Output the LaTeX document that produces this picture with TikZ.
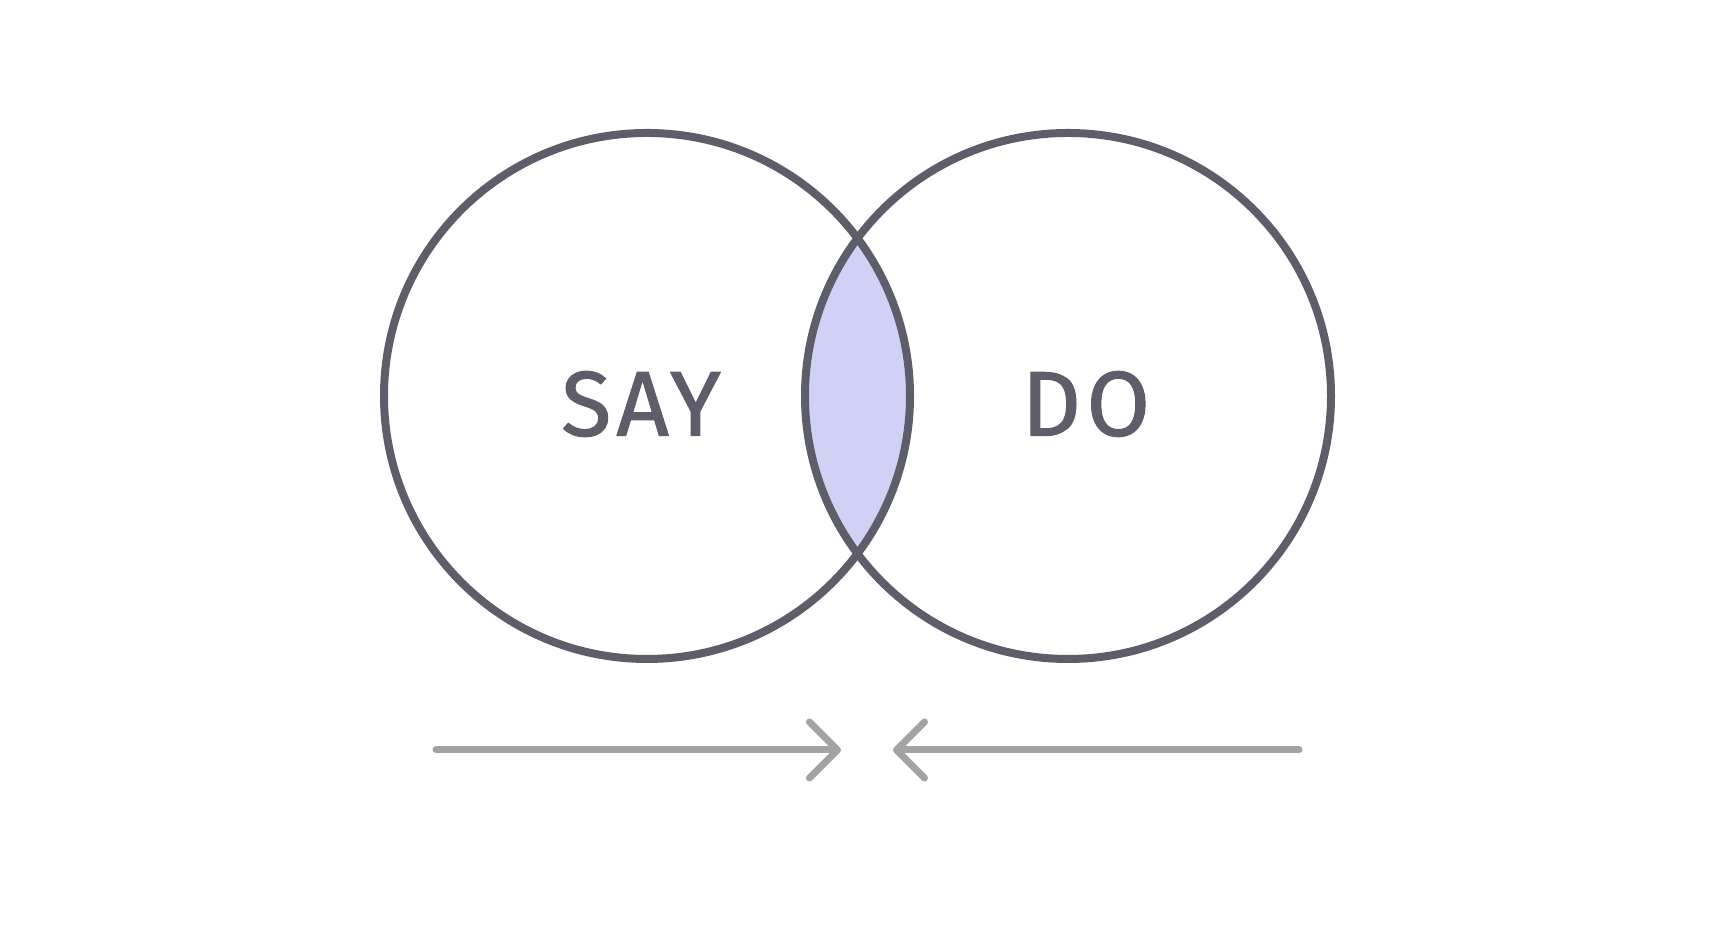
\documentclass[tikz,border=0pt]{standalone}
\usepackage{fontspec}
\setmainfont{Fira Sans}
\newfontfamily\vennfont{Fira Sans}[FakeBold=1.2,LetterSpace=6]
\usetikzlibrary{arrows.meta,positioning}
\definecolor{ringgray}{RGB}{94,93,106}
\definecolor{lensblue}{RGB}{209,209,245}
\definecolor{arrowgray}{RGB}{163,163,163}
\begin{document}
\begin{tikzpicture}[x=0.25pt,y=-0.25pt]

\tikzstyle{ring}=[draw=ringgray,line width=2pt,circle,outer sep=0pt,inner sep=0pt,minimum size=131.5pt]
\tikzstyle{word}=[text=ringgray,inner sep=0pt,font=\vennfont\fontsize{23}{23}\selectfont]
\tikzstyle{push}=[draw=arrowgray,line width=1.75pt,line cap=round,-{Straight Barb[length=7pt,width=14pt,round]}]

\useasboundingbox (0,0) rectangle (1716,948);

\coordinate (say_c) at (647,396);
\coordinate (do_c) at (1068,396);

% overlap
\begin{scope}
\clip (say_c) circle (65.75pt);
\fill [lensblue] (do_c) circle (65.75pt);
\end{scope}

\node (say) [ring] at (say_c) {};
\node (do) [ring] at (do_c) {};
\node (say_label) [word] at (641,404) {SAY};
\node (do_label) [word] at (1086,404) {DO};

\coordinate (say_start) at (436,750);
\coordinate (say_end) at (841,750);
\coordinate (do_start) at (1299,750);
\coordinate (do_end) at (893,750);

\draw [push] (say_start) -- (say_end);
\draw [push] (do_start) -- (do_end);

\end{tikzpicture}
\end{document}
